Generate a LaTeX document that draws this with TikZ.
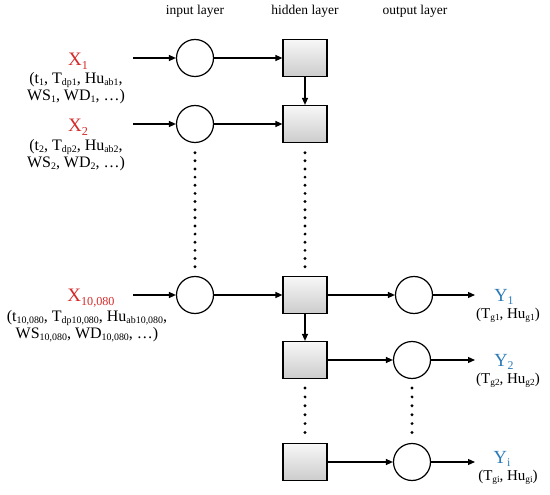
\documentclass[tikz,border=0pt]{standalone}
\usepackage{fontspec}
\usepackage{graphicx}
\setmainfont{Liberation Serif}
\usetikzlibrary{arrows.meta}
\newcommand\sbx[1]{\raisebox{-0.25ex}{\scalebox{0.62}{#1}}}
\newcommand\sbX[1]{\raisebox{-0.45ex}{\scalebox{0.64}{#1}}}
\definecolor{xred}{HTML}{D42A2A}
\definecolor{yblue}{HTML}{2A7AB8}
\begin{document}
\begin{tikzpicture}[x=1pt,y=-1pt,
  neuron/.style={circle,draw,line width=1.2pt,minimum size=37pt,inner sep=0pt},
  hid/.style={rectangle,draw,line width=1.2pt,minimum width=44pt,minimum height=37pt,inner sep=0pt,top color=gray!6,bottom color=gray!40},
  conn/.style={line width=1.2pt,-{Triangle[length=7pt,width=6pt]}},
  ttl/.style={font=\fontsize{13.5}{15}\selectfont},
  xlab/.style={text=xred,font=\fontsize{19}{20}\selectfont,inner sep=0pt},
  ylab/.style={text=yblue,font=\fontsize{18.5}{19}\selectfont,inner sep=0pt},
  par/.style={font=\fontsize{16}{17}\selectfont,align=center,inner sep=0pt},
  ypar/.style={font=\fontsize{15}{16}\selectfont,align=center,inner sep=0pt},
  dot/.style={fill=black}
]
\useasboundingbox (0,0) rectangle (550,495);
% titles
\node[ttl] (t1) at (195,11) {input layer};
\node[ttl] (t2) at (305,11) {hidden layer};
\node[ttl] (t3) at (415,11) {output layer};
% input neurons
\node[neuron] (I1) at (195,58) {};
\node[neuron] (I2) at (195,124) {};
\node[neuron] (I3) at (195,295) {};
% hidden
\node[hid] (H1) at (305,58) {};
\node[hid] (H2) at (305,124) {};
\node[hid] (H3) at (305,295) {};
\node[hid] (H4) at (305,360) {};
\node[hid] (H5) at (305,462) {};
% output
\node[neuron] (O1) at (414,295) {};
\node[neuron] (O2) at (412,360) {};
\node[neuron] (O3) at (412,462) {};
% free ends
\coordinate (a1) at (133,58);
\coordinate (a2) at (133,124);
\coordinate (a3) at (133,295);
\coordinate (b1) at (475,295);
\coordinate (b2) at (475,360);
\coordinate (b3) at (475,462);
% connectors
\draw[conn] (a1) -- (I1);
\draw[conn] (a2) -- (I2);
\draw[conn] (a3) -- (I3);
\draw[conn] (I1) -- (H1);
\draw[conn] (I2) -- (H2);
\draw[conn] (I3) -- (H3);
\draw[conn] (H1) -- (H2);
\draw[conn] (H3) -- (H4);
\draw[conn] (H3) -- (O1);
\draw[conn] (H4) -- (O2);
\draw[conn] (H5) -- (O3);
\draw[conn] (O1) -- (b1);
\draw[conn] (O2) -- (b2);
\draw[conn] (O3) -- (b3);
% dots
\foreach \k in {0,...,14} {
  \fill[dot] (195,152.7+\k*8.14) circle (1.6pt);
  \fill[dot] (305,152.7+\k*8.14) circle (1.6pt);
}
\foreach \k in {0,...,5} {
  \fill[dot] (305,388+\k*8.9) circle (1.6pt);
  \fill[dot] (412,388+\k*8.9) circle (1.6pt);
}
% input labels
\node[xlab] (X1) at (78,61) {X\sbX{1}};
\node[par] (P1) at (76,88.5) {(t\sbx{1}, T\sbx{dp1}, Hu\sbx{ab1},\\ WS\sbx{1}, WD\sbx{1}, \dots)};
\node[xlab] (X2) at (78,127.5) {X\sbX{2}};
\node[par] (P2) at (76,155) {(t\sbx{2}, T\sbx{dp2}, Hu\sbx{ab2},\\ WS\sbx{2}, WD\sbx{2}, \dots)};
\node[xlab] (X3) at (91,298) {X\sbX{10,080}};
\node[par] (P3) at (87,326.5) {(t\sbx{10,080}, T\sbx{dp10,080}, Hu\sbx{ab10,080},\\ WS\sbx{10,080}, WD\sbx{10,080}, \dots)};
% output labels
\node[ylab] (Y1) at (504,297) {Y\sbX{1}};
\node[ypar] (Q1) at (508,315) {(T\sbx{g1}, Hu\sbx{g1})};
\node[ylab] (Y2) at (504,362) {Y\sbX{2}};
\node[ypar] (Q2) at (508,380) {(T\sbx{g2}, Hu\sbx{g2})};
\node[ylab] (Y3) at (502,459) {Y\sbX{i}};
\node[ypar] (Q3) at (508,477) {(T\sbx{gi}, Hu\sbx{gi})};
\end{tikzpicture}
\end{document}
